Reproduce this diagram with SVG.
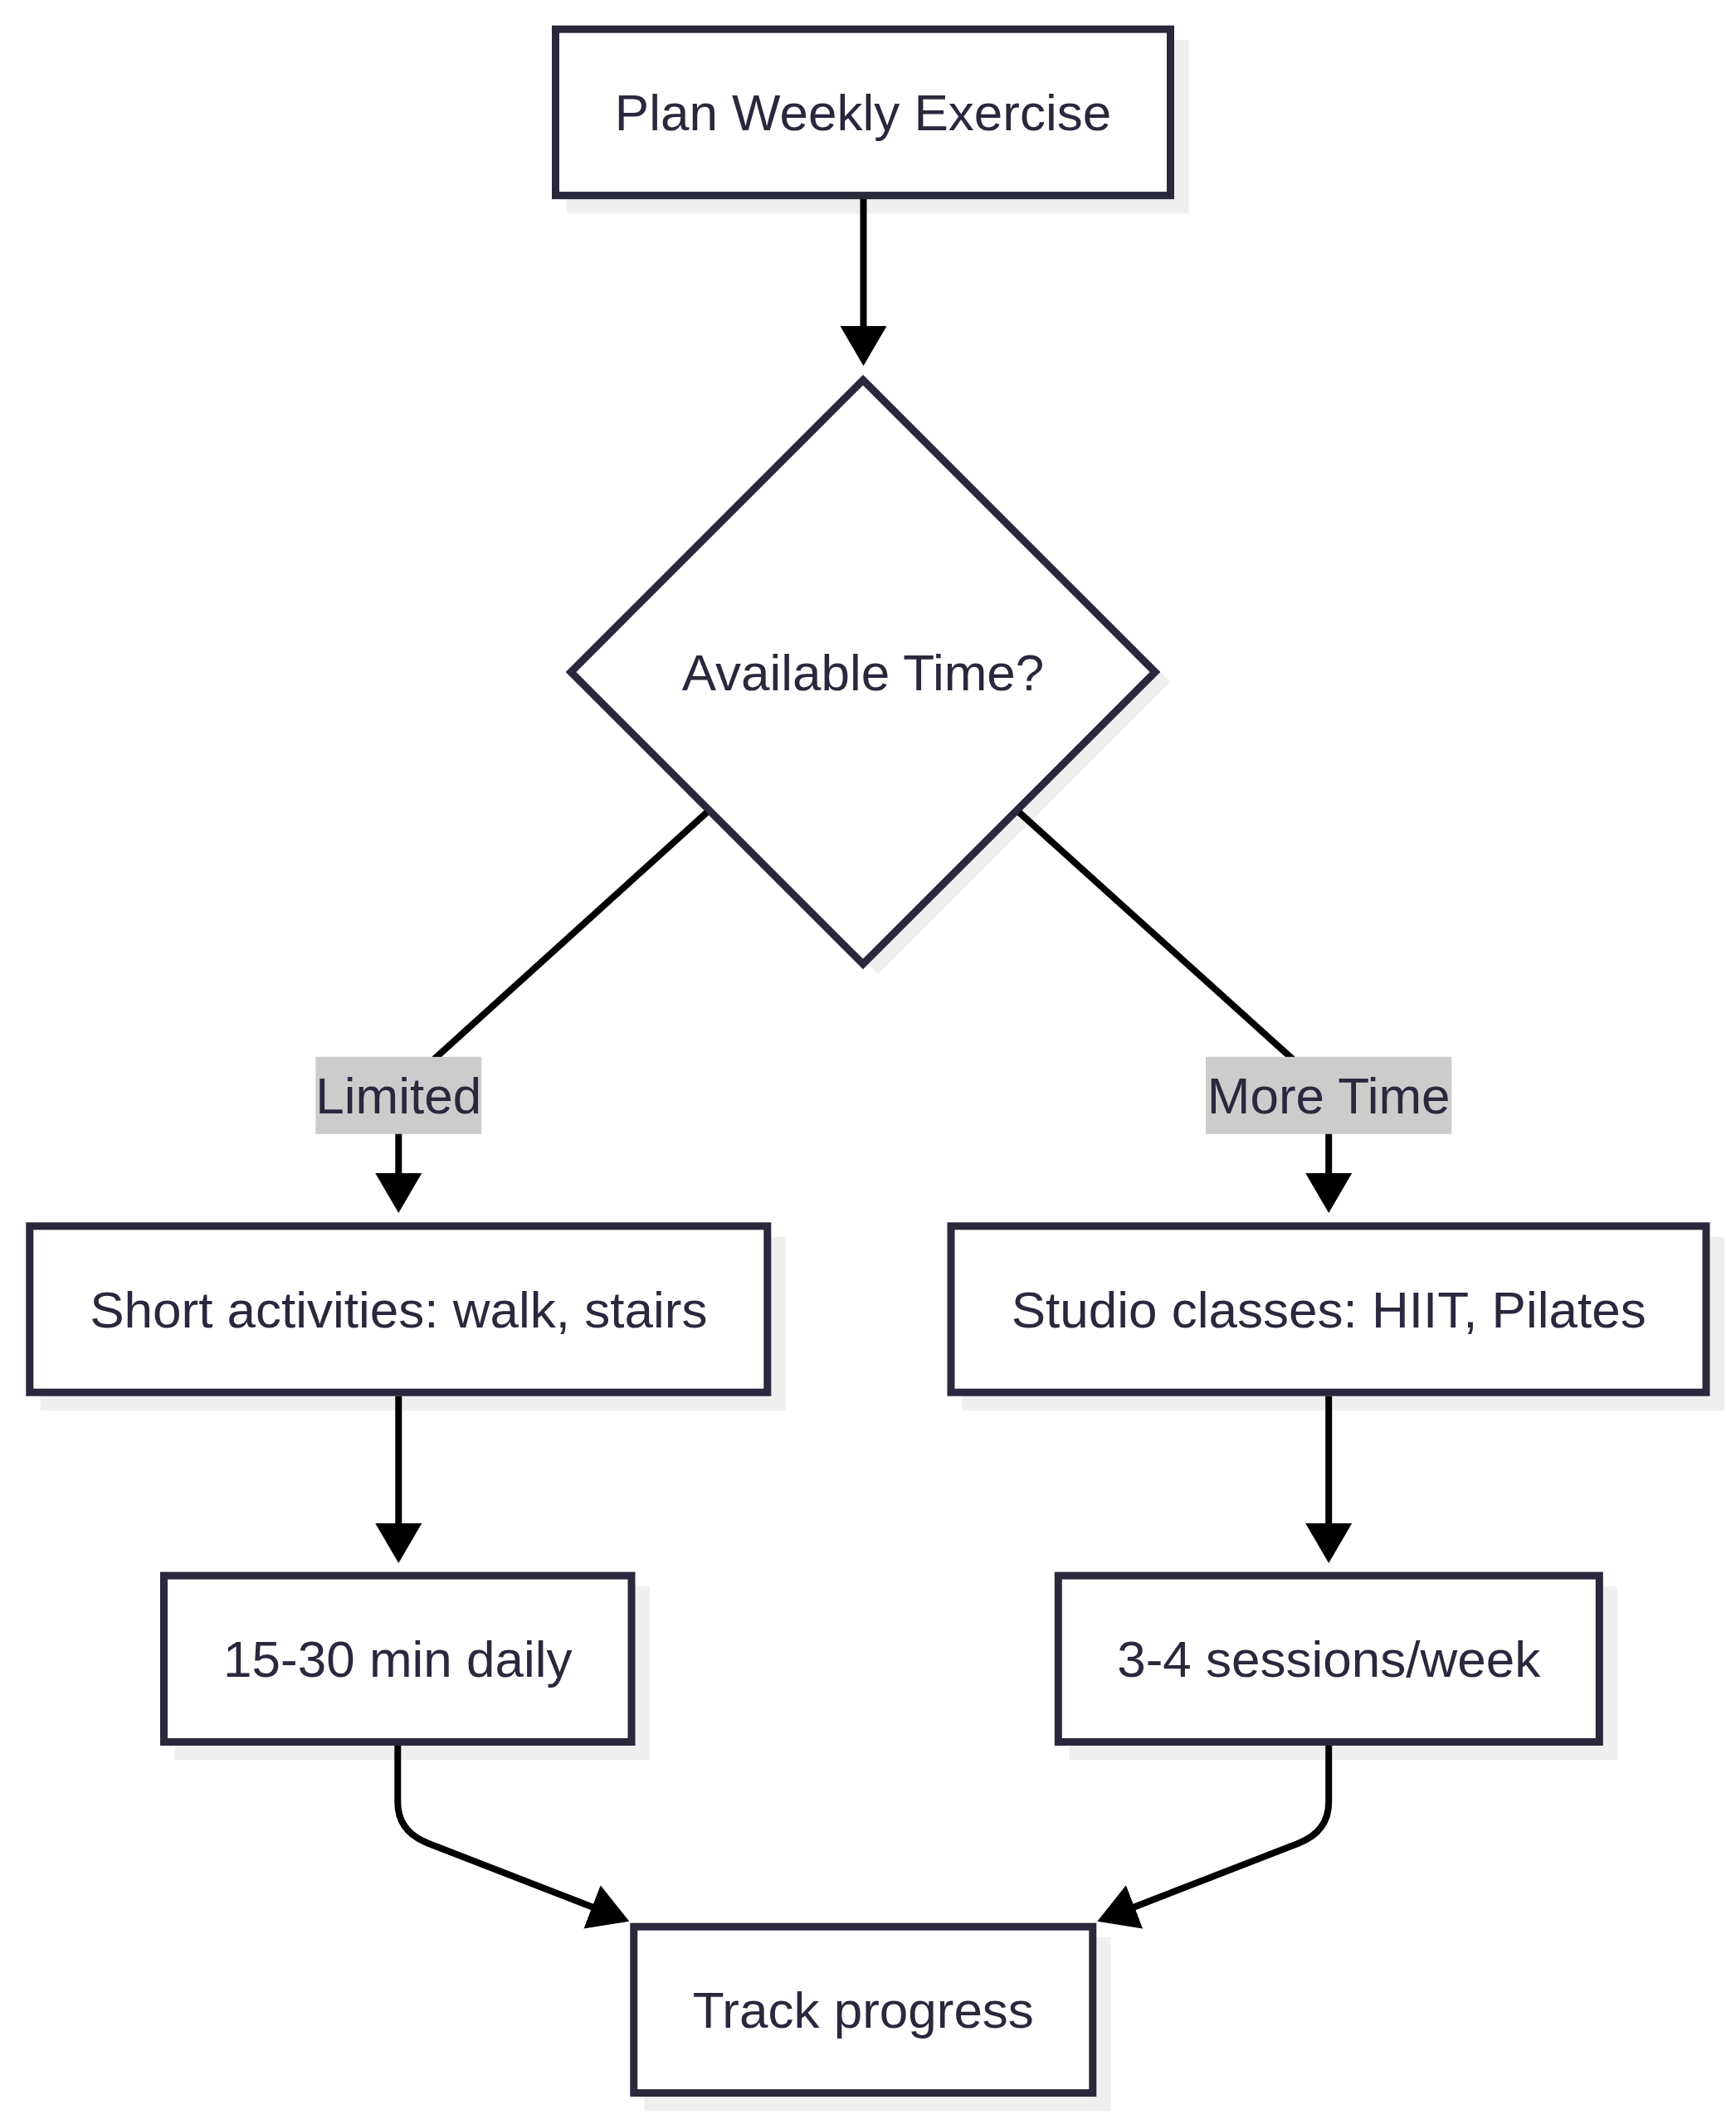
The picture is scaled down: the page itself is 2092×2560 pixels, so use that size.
<svg xmlns="http://www.w3.org/2000/svg" width="2092" height="2560" viewBox="0 0 2092 2560">
<defs>
<marker id="arrow" markerUnits="userSpaceOnUse" viewBox="0 0 48 56" markerWidth="48" markerHeight="56" refX="12" refY="28" orient="auto">
<path d="M0,0 L48,28 L0,56 z" fill="#000"/>
</marker>
</defs>
<style>
.box{fill:#fff;stroke:#29283d;stroke-width:9}
.shadow{fill:#efefef;stroke:none}
.txt{font-family:"Liberation Sans",Arial,sans-serif;font-size:62px;fill:#29283d;text-anchor:middle;dominant-baseline:central}
.edge{fill:none;stroke:#000;stroke-width:8;marker-end:url(#arrow)}
.lbl{fill:#cccccc;stroke:none}
</style>
<rect width="2092" height="2560" fill="#fff"/>

<g id="node-plan">
<rect class="shadow" x="682.5" y="48" width="750" height="209.4"/>
<rect class="box" x="669.5" y="35.2" width="741" height="200.4"/>
<text class="txt" x="1040" y="135.4">Plan Weekly Exercise</text>
</g>

<g id="node-available">
<polygon class="shadow" points="1058,470 1410,822 1058,1174 706,822"/>
<polygon class="box" points="1040,458 1392,810 1040,1162 688,810"/>
<text class="txt" x="1040" y="810">Available Time?</text>
</g>

<g id="node-short">
<rect class="shadow" x="48.7" y="1490.7" width="898" height="209.4"/>
<rect class="box" x="35.8" y="1477.8" width="889" height="200.4"/>
<text class="txt" x="480.3" y="1578">Short activities: walk, stairs</text>
</g>

<g id="node-studio">
<rect class="shadow" x="1158.9" y="1490.7" width="919" height="209.4"/>
<rect class="box" x="1146" y="1477.8" width="910" height="200.4"/>
<text class="txt" x="1601.2" y="1578">Studio classes: HIIT, Pilates</text>
</g>

<g id="node-daily">
<rect class="shadow" x="210.4" y="1912" width="572.5" height="209.4"/>
<rect class="box" x="197.5" y="1899.1" width="563.5" height="200.4"/>
<text class="txt" x="479.3" y="1999.3">15-30 min daily</text>
</g>

<g id="node-sessions">
<rect class="shadow" x="1288.2" y="1912" width="661" height="209.4"/>
<rect class="box" x="1275.3" y="1899.1" width="652" height="200.4"/>
<text class="txt" x="1601.2" y="1999.3">3-4 sessions/week</text>
</g>

<g id="node-track">
<rect class="shadow" x="776.7" y="2335.1" width="562" height="209.4"/>
<rect class="box" x="763.8" y="2322.2" width="553" height="200.4"/>
<text class="txt" x="1040.3" y="2422.4">Track progress</text>
</g>

<g id="connectors">
<path class="edge" d="M1040.5,240 L1040.5,405"/>
<path class="edge" d="M851.7,979.3 L505,1293 Q480.3,1315 480.3,1345 L480.3,1426"/>
<path class="edge" d="M1228.3,979.3 L1576,1293 Q1601.2,1315 1601.2,1345 L1601.2,1426"/>
<path class="edge" d="M480.3,1682.7 L480.3,1848"/>
<path class="edge" d="M1601.2,1682.7 L1601.2,1848"/>
<path class="edge" d="M479.3,2104 L479.3,2172 Q479.3,2207.5 516,2221.7 L724.7,2302.7"/>
<path class="edge" d="M1601.2,2104 L1601.2,2172 Q1601.2,2207.5 1564.6,2221.7 L1355.9,2302.7"/>
</g>

<g id="label-limited">
<rect class="lbl" x="380.3" y="1273.8" width="200" height="93"/>
<text class="txt" x="480.3" y="1320.3">Limited</text>
</g>
<g id="label-more-time">
<rect class="lbl" x="1453" y="1273.8" width="296.4" height="93"/>
<text class="txt" x="1601.2" y="1320.3">More Time</text>
</g>
</svg>
